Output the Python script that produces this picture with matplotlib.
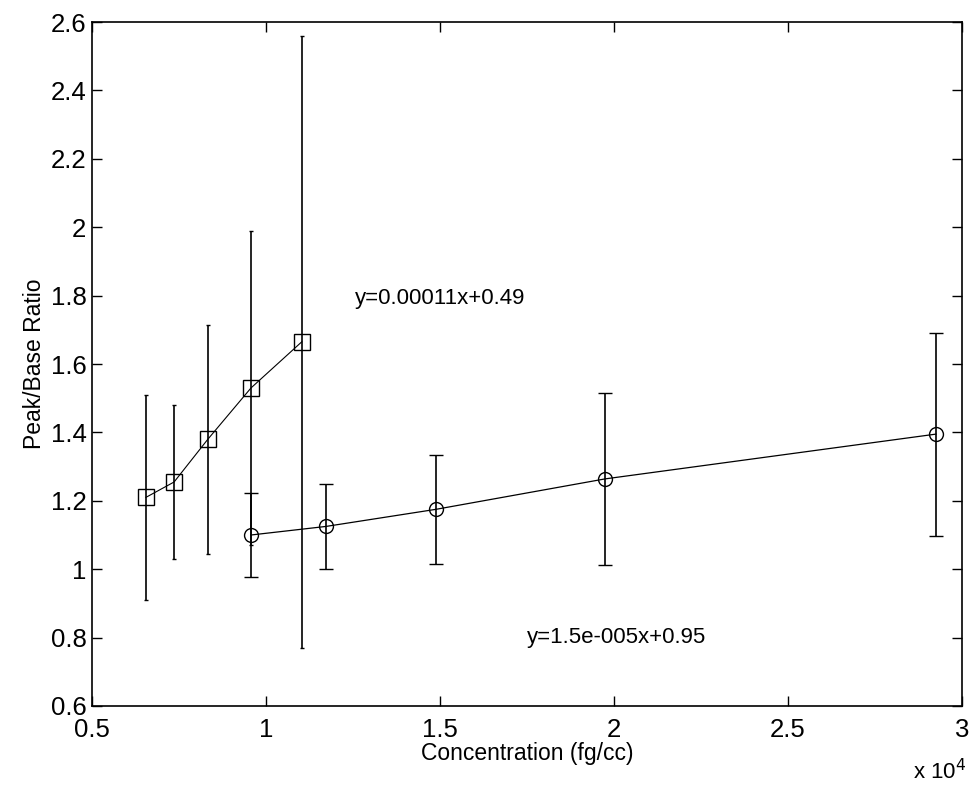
import matplotlib
matplotlib.use("Agg")
import matplotlib.pyplot as plt
from matplotlib.ticker import FuncFormatter

plt.rcParams['font.family'] = ['Liberation Sans', 'DejaVu Sans']

# square series (steep fit)
sq_conc = [6550, 7360, 8330, 9570, 11030]
sq_ratio = [1.21, 1.255, 1.38, 1.53, 1.665]
sq_err = [0.30, 0.225, 0.335, 0.46, 0.895]

# circle series (shallow fit)
ci_conc = [9570, 11720, 14880, 19740, 29250]
ci_ratio = [1.10, 1.125, 1.175, 1.264, 1.395]
ci_err = [0.122, 0.125, 0.16, 0.252, 0.297]

fit_labels = ["y=0.00011x+0.49", "y=1.5e-005x+0.95"]

fig = plt.figure(figsize=(9.7, 7.89), dpi=100)
ax = fig.add_axes([0.0948, 0.1052, 0.897, 0.8669])

ax.errorbar(sq_conc, sq_ratio, yerr=sq_err, fmt='-', color='black', lw=0.8,
            elinewidth=1.2, capsize=1.5, capthick=1.2,
            marker='s', markersize=11.5, markerfacecolor='none',
            markeredgecolor='black', markeredgewidth=1.0)
ax.errorbar(ci_conc, ci_ratio, yerr=ci_err, fmt='-', color='black', lw=0.9,
            elinewidth=1.2, capsize=5, capthick=1.2,
            marker='o', markersize=10, markerfacecolor='none',
            markeredgecolor='black', markeredgewidth=1.0)

ax.text(12560, 1.793, fit_labels[0], fontsize=16, va='center', ha='left')
ax.text(17500, 0.799, fit_labels[1], fontsize=16, va='center', ha='left')

ax.set_xlim(5000, 30000)
ax.set_ylim(0.6, 2.6)
ax.set_xticks([5000, 10000, 15000, 20000, 25000, 30000])
ax.set_yticks([0.6, 0.8, 1.0, 1.2, 1.4, 1.6, 1.8, 2.0, 2.2, 2.4, 2.6])
ax.xaxis.set_major_formatter(FuncFormatter(lambda v, p: f"{v/1e4:g}"))
ax.yaxis.set_major_formatter(FuncFormatter(lambda v, p: f"{v:g}"))
ax.tick_params(direction='in', length=7, width=1, top=True, right=True,
               labelsize=18.5, pad=4)
ax.tick_params(axis='x', pad=9)
for s in ax.spines.values():
    s.set_linewidth(1.2)

ax.set_xlabel("Concentration (fg/cc)", fontsize=16.5, labelpad=0)
ax.set_ylabel("Peak/Base Ratio", fontsize=16.5, labelpad=3)
fig.text(0.969, 0.006, r"x 10$^4$", fontsize=16, ha='center', va='bottom')

fig.savefig("out.png", dpi=100)
